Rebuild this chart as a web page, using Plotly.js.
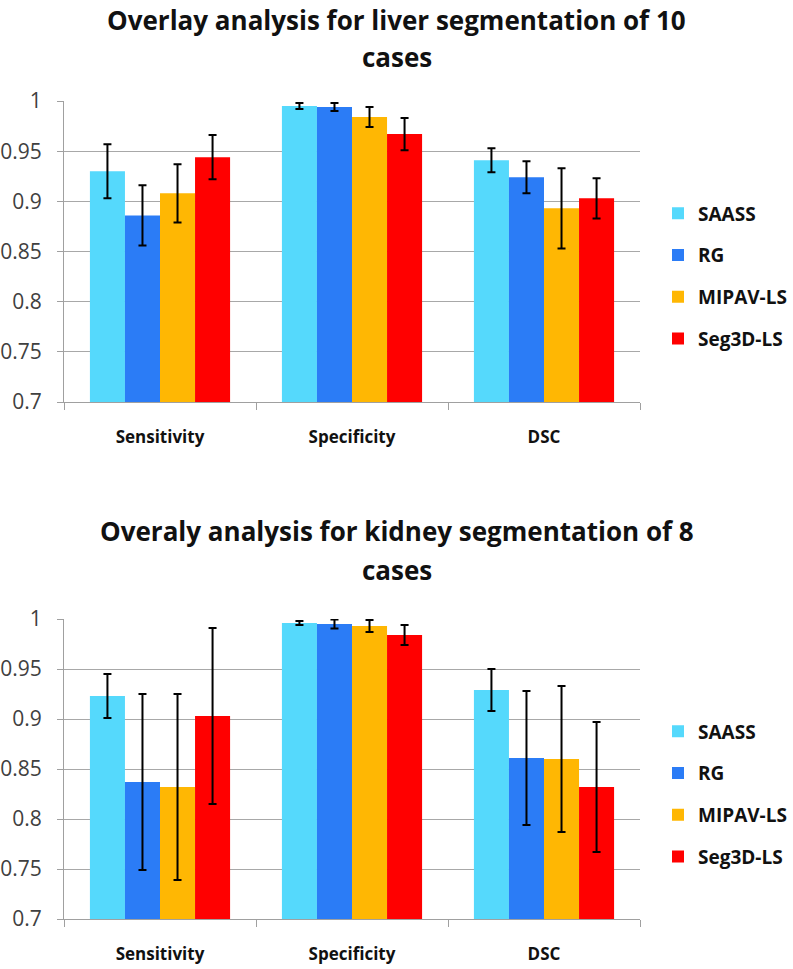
<!DOCTYPE html>
<html>
<head>
<meta charset="utf-8">
<script src="https://cdn.plot.ly/plotly-3.0.1.min.js"></script>
<style>
  html, body { margin: 0; padding: 0; background: #fff; }
  #grafico { width: 793px; height: 969px; }
</style>
</head>
<body>
<div id="grafico"></div>
<script>
// Categorias e séries
const categories = ['Sensitivity', 'Specificity', 'DSC'];
const methods = ['SAASS', 'RG', 'MIPAV-LS', 'Seg3D-LS'];
const colors = ['#55D9FC', '#2B7CF6', '#FFB703', '#FF0000'];

// Fígado (10 casos)
const saassLiver = [0.930, 0.995, 0.941];
const rgLiver = [0.886, 0.994, 0.924];
const mipavLiver = [0.908, 0.984, 0.893];
const seg3dLiver = [0.944, 0.967, 0.903];
const saassLiverErr = [0.027, 0.003, 0.012];
const rgLiverErr = [0.030, 0.004, 0.016];
const mipavLiverErr = [0.029, 0.010, 0.040];
const seg3dLiverErr = [0.022, 0.016, 0.020];

// Rim (8 casos)
const saassKidney = [0.923, 0.996, 0.929];
const rgKidney = [0.837, 0.995, 0.861];
const mipavKidney = [0.832, 0.993, 0.860];
const seg3dKidney = [0.903, 0.984, 0.832];
const saassKidneyErr = [0.022, 0.002, 0.021];
const rgKidneyErr = [0.088, 0.0045, 0.067];
const mipavKidneyErr = [0.093, 0.006, 0.073];
const seg3dKidneyErr = [0.088, 0.010, 0.065];

const yTicks = [0.7, 0.75, 0.8, 0.85, 0.9, 0.95, 1];

const liverVals = [saassLiver, rgLiver, mipavLiver, seg3dLiver];
const liverErrs = [saassLiverErr, rgLiverErr, mipavLiverErr, seg3dLiverErr];
const kidneyVals = [saassKidney, rgKidney, mipavKidney, seg3dKidney];
const kidneyErrs = [saassKidneyErr, rgKidneyErr, mipavKidneyErr, seg3dKidneyErr];

function makeTraces(vals, errs, xa, ya, legendName, prefix) {
    return vals.map((v, i) => ({
        x: categories,
        y: v,
        type: 'bar',
        name: methods[i],
        xaxis: xa,
        yaxis: ya,
        legend: legendName,
        legendgroup: prefix + i,
        marker: { color: colors[i], line: { width: 0 } },
        error_y: { type: 'data', array: errs[i], visible: true, color: '#000', thickness: 2, width: 4 }
    }));
}

const data = makeTraces(liverVals, liverErrs, 'x', 'y', 'legend', 'l')
    .concat(makeTraces(kidneyVals, kidneyErrs, 'x2', 'y2', 'legend2', 'k'));

const W = 793, H = 969;
const xDomain = [64 / W, 640 / W];

const yAxisStyle = {
    range: [0.7, 1],
    tickvals: yTicks,
    ticktext: yTicks.map(String),
    showgrid: true,
    gridcolor: '#A8A8A8',
    gridwidth: 1,
    showline: true,
    linecolor: '#A0A0A0',
    linewidth: 1,
    ticks: 'outside',
    ticklen: 6,
    tickcolor: '#A0A0A0',
    ticklabelstandoff: 11,
    zeroline: false,
    fixedrange: true,
    tickfont: { family: 'Open Sans', size: 21, color: '#404040' }
};

const xAxisStyle = {
    domain: xDomain,
    showline: true,
    linecolor: '#A0A0A0',
    linewidth: 1,
    ticks: 'outside',
    tickson: 'boundaries',
    ticklen: 7,
    tickcolor: '#A0A0A0',
    ticklabelstandoff: 20,
    showgrid: false,
    fixedrange: true,
    tickfont: { family: 'Open Sans', size: 17, color: '#111', weight: 'bold' }
};

const legendStyle = {
    x: 658 / W,
    xanchor: 'left',
    yanchor: 'middle',
    traceorder: 'grouped',
    tracegroupgap: 14,
    itemwidth: 30,
    font: { family: 'Open Sans', size: 19, color: '#111', weight: 'bold' },
    bgcolor: 'rgba(0,0,0,0)'
};

const titleFont = { family: 'Open Sans', size: 26, color: '#111', weight: 'bold' };

const layout = {
    width: W,
    height: H,
    margin: { l: 0, r: 0, t: 0, b: 0, autoexpand: false },
    paper_bgcolor: '#fff',
    plot_bgcolor: '#fff',
    barmode: 'group',
    bargap: 0.27,
    bargroupgap: 0,
    xaxis: Object.assign({}, xAxisStyle, { anchor: 'y' }),
    yaxis: Object.assign({}, yAxisStyle, { domain: [1 - 402 / H, 1 - 101 / H], anchor: 'x' }),
    xaxis2: Object.assign({}, xAxisStyle, { anchor: 'y2' }),
    yaxis2: Object.assign({}, yAxisStyle, { domain: [1 - 919 / H, 1 - 619 / H], anchor: 'x2' }),
    legend: Object.assign({}, legendStyle, { y: 1 - 276 / H }),
    legend2: Object.assign({}, legendStyle, { y: 1 - 794 / H }),
    annotations: [
        { text: 'Overlay analysis for liver segmentation of 10', x: 0.5, y: 1, yanchor: 'top' },
        { text: 'cases', x: 0.5, y: 1 - 57 / H },
        { text: 'Overaly analysis for kidney segmentation of 8', x: 0.5, y: 1 - 531 / H },
        { text: 'cases', x: 0.5, y: 1 - 570 / H }
    ].map(a => Object.assign({
        xref: 'paper', yref: 'paper', xanchor: 'center', yanchor: 'middle',
        showarrow: false, font: titleFont
    }, a))
};

Plotly.newPlot('grafico', data, layout, { displayModeBar: false, staticPlot: true });
</script>
</body>
</html>
